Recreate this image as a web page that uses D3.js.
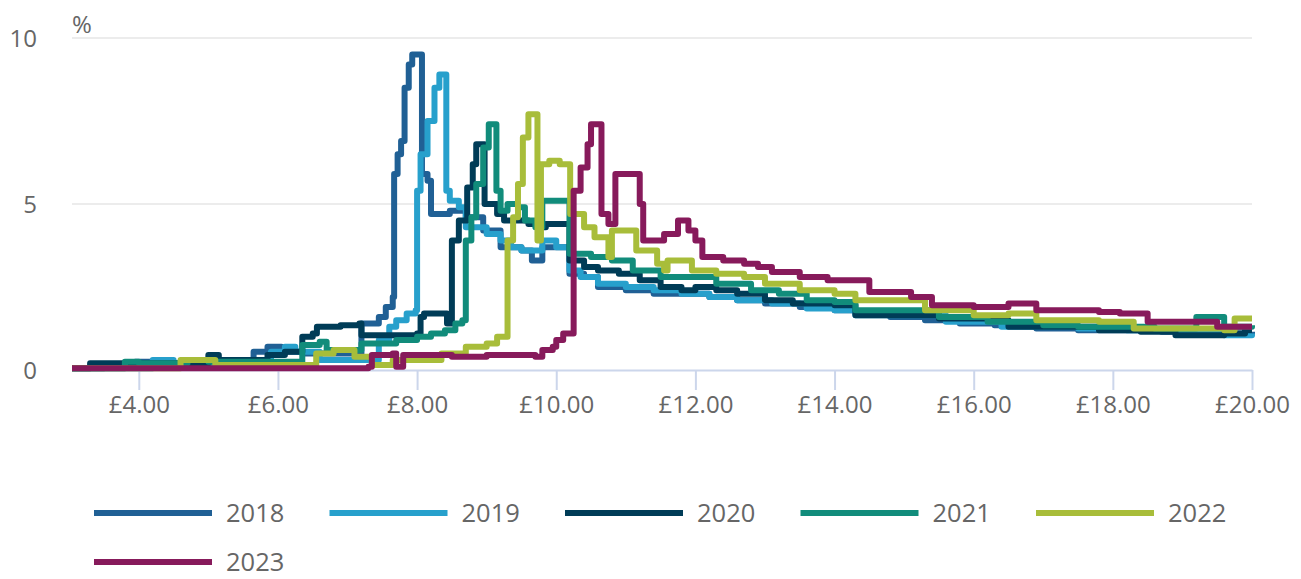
<!DOCTYPE html>
<html>
<head>
<meta charset="utf-8">
<script src="https://cdn.jsdelivr.net/npm/d3@7"></script>
<style>
  body { margin: 0; background: #fff; }
  svg { font-family: "Open Sans", sans-serif; }
</style>
</head>
<body>
<div id="chart"></div>
<script>
// price (£) / share (%) pairs
const years = ["2018", "2019", "2020", "2021", "2022", "2023"];
const colors = ["#206095", "#27a0cc", "#003c57", "#118c7b", "#a8bd3a", "#871a5b"];
const xTicks = [4, 6, 8, 10, 12, 14, 16, 18, 20];
const yTicks = [0, 5, 10];

const s2018 = [[3.04,0.05],[3.5,0.1],[3.95,0.25],[4.4,0.2],[5.0,0.2],[5.65,0.55],[5.85,0.7],[6.05,0.55],[6.35,0.5],[7.2,1.4],[7.45,1.6],[7.55,1.9],[7.65,2.2],[7.67,5.9],[7.72,6.5],[7.77,6.9],[7.82,8.5],[7.88,9.2],[7.93,9.5],[8.07,5.9],[8.15,5.7],[8.2,4.7],[8.47,4.8],[8.7,4.6],[8.95,4.2],[9.2,3.7],[9.5,3.6],[9.65,3.3],[9.8,3.7],[10.19,2.9],[10.4,2.8],[10.6,2.5],[11.0,2.4],[11.4,2.3],[12.0,2.3],[12.2,2.2],[12.6,2.1],[13.0,2.0],[13.5,1.9],[14.0,1.8],[14.3,1.7],[14.8,1.6],[15.3,1.5],[15.8,1.4],[16.3,1.35],[16.9,1.25],[17.5,1.2],[18.2,1.2],[18.7,1.15],[19.3,1.1],[20,1.15]];
const s2019 = [[3.04,0.05],[4.2,0.3],[4.5,0.2],[5.9,0.55],[6.1,0.7],[6.25,0.55],[6.6,0.3],[7.1,0.3],[7.45,0.9],[7.6,1.3],[7.7,1.5],[7.85,1.7],[7.98,1.8],[8.0,5.4],[8.05,6.5],[8.15,7.5],[8.25,8.5],[8.32,8.9],[8.42,5.4],[8.47,5.1],[8.6,4.9],[8.7,4.3],[9.0,4.1],[9.2,3.9],[9.35,3.7],[9.5,3.6],[9.8,3.9],[10.0,3.7],[10.19,3.0],[10.35,2.8],[10.6,2.6],[11.0,2.5],[11.4,2.4],[11.8,2.3],[12.2,2.2],[12.6,2.1],[13.1,2.0],[13.6,1.85],[14.0,1.8],[14.3,1.65],[15.0,1.65],[15.6,1.45],[16.0,1.45],[16.4,1.3],[17.0,1.3],[17.5,1.25],[18.2,1.2],[19.0,1.1],[19.6,1.05],[20,1.1]];
const s2020 = [[3.04,0.05],[3.3,0.2],[5.0,0.45],[5.15,0.3],[5.7,0.3],[5.85,0.45],[6.1,0.55],[6.35,1.0],[6.5,1.1],[6.56,1.3],[6.9,1.35],[7.17,1.4],[7.2,1.05],[8.0,1.1],[8.05,1.6],[8.1,1.7],[8.43,1.4],[8.5,3.9],[8.6,4.5],[8.72,5.5],[8.8,6.2],[8.85,6.8],[8.97,5.0],[9.15,4.7],[9.25,4.5],[9.6,4.4],[9.75,4.3],[9.85,4.4],[10.19,3.3],[10.4,3.1],[10.6,3.0],[10.9,2.9],[11.2,2.7],[11.5,2.5],[11.8,2.4],[12.0,2.5],[12.3,2.4],[12.6,2.3],[13.0,2.1],[13.4,2.0],[14.0,1.95],[14.3,1.65],[15.0,1.65],[15.5,1.55],[16.2,1.5],[16.5,1.3],[17.3,1.3],[17.8,1.2],[18.4,1.15],[18.9,1.05],[19.3,1.05],[19.6,1.1],[19.9,1.2],[20,1.2]];
const s2021 = [[3.04,0.05],[3.8,0.25],[4.0,0.2],[4.7,0.3],[5.0,0.25],[6.35,0.75],[6.6,0.85],[6.7,0.6],[7.2,0.8],[7.7,0.9],[8.0,1.0],[8.2,1.1],[8.4,1.2],[8.55,1.4],[8.65,1.5],[8.7,3.9],[8.78,4.6],[8.85,5.6],[8.95,6.7],[9.03,7.4],[9.14,5.4],[9.2,4.8],[9.3,5.0],[9.45,4.9],[9.55,4.5],[9.7,4.3],[9.8,5.1],[10.19,3.5],[10.5,3.4],[10.8,3.3],[11.1,3.0],[11.5,2.8],[12.0,2.8],[12.3,2.6],[12.8,2.4],[13.2,2.3],[13.6,2.1],[14.0,2.05],[14.3,1.8],[15.0,1.8],[15.5,1.6],[16.2,1.45],[17.0,1.35],[17.5,1.3],[18.1,1.3],[18.6,1.25],[19.2,1.6],[19.6,1.3],[20,1.35]];
const s2022 = [[3.04,0.05],[4.6,0.3],[5.1,0.15],[6.55,0.5],[6.8,0.6],[7.1,0.4],[7.35,0.15],[7.65,0.3],[8.0,0.3],[8.35,0.5],[8.7,0.7],[9.0,0.8],[9.15,1.0],[9.3,3.9],[9.38,4.6],[9.45,5.6],[9.52,7.0],[9.6,7.7],[9.73,3.9],[9.78,6.2],[9.9,6.3],[10.05,6.2],[10.2,4.7],[10.4,4.3],[10.55,4.0],[10.75,3.4],[10.8,4.2],[11.15,3.6],[11.45,3.2],[11.55,3.0],[11.6,3.3],[11.95,3.0],[12.3,2.9],[12.7,2.8],[13.0,2.6],[13.5,2.4],[14.0,2.3],[14.3,2.1],[15.0,2.1],[15.3,1.8],[16.0,1.65],[16.5,1.7],[16.9,1.5],[17.8,1.45],[18.3,1.25],[19.3,1.25],[19.6,1.2],[19.75,1.55],[20,1.55]];
const s2023 = [[3.04,0.05],[7.3,0.1],[7.35,0.45],[7.65,0.5],[7.7,0.1],[7.8,0.45],[8.5,0.4],[9.0,0.45],[9.7,0.4],[9.8,0.6],[9.95,0.7],[10.0,0.9],[10.1,1.1],[10.25,5.4],[10.35,6.1],[10.45,6.8],[10.5,7.4],[10.65,4.7],[10.75,4.4],[10.85,5.9],[11.15,5.9],[11.2,5.0],[11.25,3.9],[11.55,4.1],[11.75,4.5],[11.9,4.2],[12.0,3.9],[12.1,3.4],[12.4,3.3],[12.7,3.2],[12.9,3.1],[13.1,2.95],[13.5,2.8],[13.9,2.7],[14.2,2.7],[14.5,2.35],[15.1,2.2],[15.4,1.95],[16.0,1.9],[16.5,2.0],[16.9,1.8],[17.8,1.75],[18.1,1.7],[18.5,1.45],[19.3,1.45],[19.5,1.3],[20,1.3]];

const seriesData = [s2018, s2019, s2020, s2021, s2022, s2023];

const W = 1301, H = 579;
const svg = d3.select("#chart").append("svg")
  .attr("width", W).attr("height", H);

const x = d3.scaleLinear().domain([3.04, 20]).range([72, 1252]);
const y = d3.scaleLinear().domain([0, 10]).range([370, 38]);

// gridlines
svg.append("g").selectAll("line")
  .data(yTicks.filter(d => d > 0))
  .enter().append("line")
  .attr("x1", 72).attr("x2", 1252)
  .attr("y1", d => y(d)).attr("y2", d => y(d))
  .attr("stroke", "#e6e6e6").attr("stroke-width", 1.5);

// y labels
svg.append("g").selectAll("text")
  .data(yTicks)
  .enter().append("text")
  .attr("x", 37).attr("y", d => y(d) + 8.5)
  .attr("text-anchor", "end")
  .style("font-size", "24px").attr("fill", "#666")
  .text(d => d);

svg.append("text").attr("x", 72).attr("y", 33)
  .style("font-size", "24px").attr("fill", "#666").text("%");

// x axis
const xAxis = svg.append("g")
  .attr("transform", `translate(0,${y(0)})`)
  .call(d3.axisBottom(x).tickValues(xTicks)
    .tickFormat(d => "£" + d.toFixed(2))
    .tickSize(20).tickSizeOuter(0).tickPadding(6));
xAxis.select(".domain").attr("stroke", "#ccd6eb").attr("stroke-width", 2);
xAxis.selectAll(".tick line").attr("stroke", "#ccd6eb").attr("stroke-width", 2);
xAxis.selectAll("text").style("font-size", "24px")
  .style("font-family", "'Open Sans', sans-serif").attr("fill", "#666");

// lines
const line = d3.line()
  .x(d => x(d[0])).y(d => y(d[1]))
  .curve(d3.curveStepAfter);

svg.append("g").selectAll("path")
  .data(seriesData)
  .enter().append("path")
  .attr("d", line)
  .attr("fill", "none")
  .attr("stroke", (d, i) => colors[i])
  .attr("stroke-width", 6)
  .attr("stroke-linejoin", "round");

// legend
const legend = svg.append("g").selectAll("g")
  .data(years)
  .enter().append("g")
  .attr("transform", (d, i) => `translate(${94 + (i % 5) * 235.5},${i < 5 ? 513 : 562})`);
legend.append("line")
  .attr("x1", 0).attr("x2", 118)
  .attr("stroke", (d, i) => colors[i]).attr("stroke-width", 6);
legend.append("text")
  .attr("x", 132).attr("y", 9)
  .style("font-size", "25.5px").attr("fill", "#666")
  .text(d => d);
</script>
</body>
</html>
